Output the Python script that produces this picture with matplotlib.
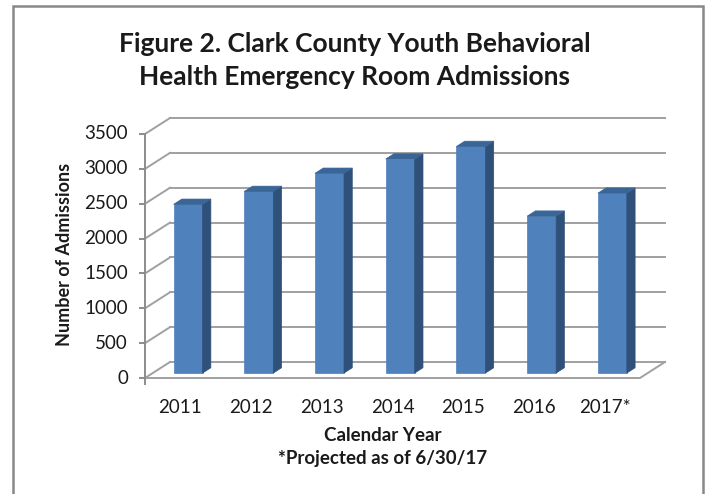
import matplotlib
matplotlib.use("Agg")
import matplotlib.pyplot as plt
from matplotlib.patches import Polygon, Rectangle

# data
years = ['2011', '2012', '2013', '2014', '2015', '2016', '2017*']
admissions = [2420, 2605, 2865, 3070, 3250, 2250, 2580]
yticks = [0, 500, 1000, 1500, 2000, 2500, 3000, 3500]

plt.rcParams['font.family'] = ['Lato', 'DejaVu Sans']

W, H = 705, 494
fig = plt.figure(figsize=(W / 100, H / 100), dpi=100)
ax = fig.add_axes([0, 0, 1, 1])
ax.axis('off')

# pixel layout of the front plane (x=-0.5 at px 145, 70.71 px per category; y=0 at py 378)
px_cat = 70.71
px_val = 244 / 3500
x0_px, y0_px = 145, 378
ax.set_xlim(-0.5 - x0_px / px_cat, -0.5 + (W - x0_px) / px_cat)
ax.set_ylim(-(H - y0_px) / px_val, y0_px / px_val)

DX = 25 / px_cat        # depth offset of back wall
DY = 16 / px_val
grid_c = '#a0a0a0'
n = len(years)
xl, xr = -0.5, n - 0.5
ymax = yticks[-1]

# back wall gridlines and side wall diagonals
for v in yticks:
    ax.plot([xl + DX, xr + DX], [v + DY, v + DY], color=grid_c, lw=1.4, zorder=1)
    ax.plot([xl, xl + DX], [v, v + DY], color=grid_c, lw=1.4, zorder=1)
    ax.plot([xl - 0.07, xl], [v, v], color='#8c8c8c', lw=1.4, zorder=2)
    ax.text(xl - 0.24, v, f'{v}', ha='right', va='center', fontsize=13.5, color='#1a1a1a')

# floor
ax.plot([xl, xr, xr + DX], [0, 0, DY], color=grid_c, lw=1.4, zorder=1)
# front vertical axis
ax.plot([xl, xl], [-90, ymax], color='#8c8c8c', lw=1.4, zorder=2)

# bars
w = 0.41
d0, d1 = 0.31, 0.64
front_c, side_c, top_c = '#4F81BD', '#2F5079', '#3A6597'
for i, v in enumerate(admissions):
    fx0 = i - w / 2 + d0 * DX
    fx1 = i + w / 2 + d0 * DX
    fy0 = d0 * DY
    fy1 = v + d0 * DY
    ddx = (d1 - d0) * DX
    ddy = (d1 - d0) * DY
    front = Polygon([(fx0, fy0), (fx1, fy0), (fx1, fy1), (fx0, fy1)],
                    closed=True, facecolor=front_c, edgecolor=front_c, lw=0.5, zorder=3)
    side = Polygon([(fx1, fy0), (fx1 + ddx, fy0 + ddy), (fx1 + ddx, fy1 + ddy), (fx1, fy1)],
                   closed=True, facecolor=side_c, edgecolor=side_c, lw=0.5, zorder=3)
    top = Polygon([(fx0, fy1), (fx1, fy1), (fx1 + ddx, fy1 + ddy), (fx0 + ddx, fy1 + ddy)],
                  closed=True, facecolor=top_c, edgecolor=top_c, lw=0.5, zorder=3)
    ax.add_patch(front)
    ax.add_patch(side)
    ax.add_patch(top)
    ax.text(i, -420, years[i], ha='center', va='center', fontsize=13.5, color='#1a1a1a')

# titles and labels (figure pixel positions)
fig.text(355 / W, 1 - 52 / H, 'Figure 2. Clark County Youth Behavioral', ha='center', va='baseline',
         fontsize=19, fontweight='bold', color='#1a1a1a')
fig.text(355 / W, 1 - 85 / H, 'Health Emergency Room Admissions', ha='center', va='baseline',
         fontsize=19, fontweight='bold', color='#1a1a1a')
fig.text(64 / W, 1 - 254 / H, 'Number of Admissions', rotation=90, ha='center', va='center',
         fontsize=13, fontweight='bold', color='#1a1a1a')
fig.text(383 / W, 1 - 435 / H, 'Calendar Year', ha='center', va='center',
         fontsize=13.5, fontweight='bold', color='#1a1a1a')
fig.text(383 / W, 1 - 458 / H, '*Projected as of 6/30/17', ha='center', va='center',
         fontsize=13.5, fontweight='bold', color='#1a1a1a')

# outer border
fig.patches.append(Rectangle((13 / W, -0.02), (703 - 13) / W, 1.02 - 6 / H,
                             transform=fig.transFigure, fill=False, edgecolor='#888888', lw=1.8))

fig.savefig('out.png', dpi=100)
